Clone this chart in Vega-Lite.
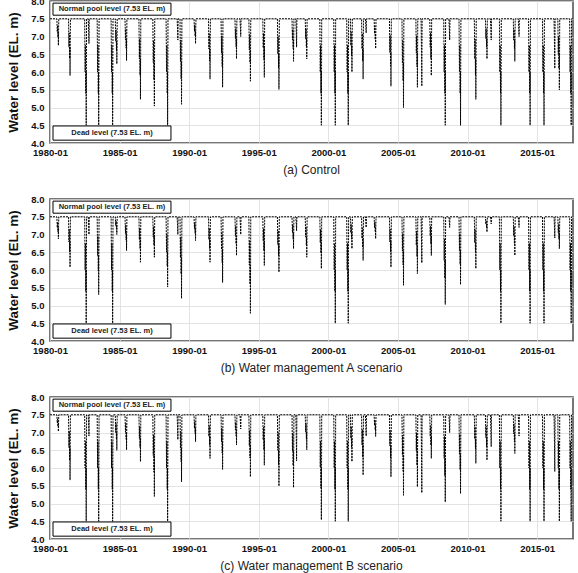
{
"$schema": "https://vega.github.io/schema/vega-lite/v6.json",
"padding": {"left": 6, "top": -5, "right": 2, "bottom": 0},
"background": "white",
"spacing": 16,
"datasets": {"wl": [
{"t":"1980-01-01","a":7.5,"b":7.5,"c":7.5},
{"t":"1980-06-29","a":7.5,"b":7.5,"c":7.5},
{"t":"1980-07-11","a":7.13,"b":7.19,"c":7.27},
{"t":"1980-07-19","a":7.31,"b":7.35,"c":7.38},
{"t":"1980-07-29","a":6.98,"b":7.07,"c":7.17},
{"t":"1980-08-04","a":7.13,"b":7.19,"c":7.27},
{"t":"1980-08-08","a":6.75,"b":6.88,"c":7.03},
{"t":"1980-08-18","a":7.5,"b":7.5,"c":7.5},
{"t":"1981-05-01","a":7.5,"b":7.5,"c":7.5},
{"t":"1981-05-13","a":6.7,"b":6.79,"c":6.58},
{"t":"1981-05-21","a":7.1,"b":7.15,"c":7.04},
{"t":"1981-05-31","a":6.38,"b":6.51,"c":6.21},
{"t":"1981-06-06","a":6.7,"b":6.79,"c":6.58},
{"t":"1981-06-10","a":5.9,"b":6.08,"c":5.66},
{"t":"1981-06-20","a":7.5,"b":7.5,"c":7.5},
{"t":"1982-06-29","a":7.5,"b":7.5,"c":7.5},
{"t":"1982-07-11","a":6.0,"b":6.0,"c":6.0},
{"t":"1982-07-19","a":6.75,"b":6.75,"c":6.75},
{"t":"1982-07-29","a":5.4,"b":5.4,"c":5.4},
{"t":"1982-08-04","a":6.0,"b":6.0,"c":6.0},
{"t":"1982-08-08","a":4.5,"b":4.5,"c":4.5},
{"t":"1982-08-18","a":7.5,"b":7.5,"c":7.5},
{"t":"1982-10-01","a":7.5,"b":7.5,"c":7.5},
{"t":"1982-10-12","a":7.15,"b":7.25,"c":7.2},
{"t":"1982-10-20","a":6.8,"b":7.0,"c":6.9},
{"t":"1982-10-28","a":7.5,"b":7.5,"c":7.5},
{"t":"1983-05-23","a":7.5,"b":7.5,"c":7.5},
{"t":"1983-06-04","a":6.0,"b":6.41,"c":6.0},
{"t":"1983-06-12","a":6.75,"b":6.95,"c":6.75},
{"t":"1983-06-22","a":5.4,"b":5.97,"c":5.4},
{"t":"1983-06-28","a":6.0,"b":6.41,"c":6.0},
{"t":"1983-07-02","a":4.5,"b":5.31,"c":4.5},
{"t":"1983-07-12","a":7.5,"b":7.5,"c":7.5},
{"t":"1984-05-23","a":7.5,"b":7.5,"c":7.5},
{"t":"1984-06-04","a":6.0,"b":6.0,"c":6.0},
{"t":"1984-06-12","a":6.75,"b":6.75,"c":6.75},
{"t":"1984-06-22","a":5.4,"b":5.4,"c":5.4},
{"t":"1984-06-28","a":6.0,"b":6.0,"c":6.0},
{"t":"1984-07-02","a":4.5,"b":4.5,"c":4.5},
{"t":"1984-07-12","a":7.5,"b":7.5,"c":7.5},
{"t":"1984-09-10","a":7.5,"b":7.5,"c":7.5},
{"t":"1984-09-22","a":6.87,"b":7.25,"c":7.0},
{"t":"1984-09-30","a":7.18,"b":7.38,"c":7.25},
{"t":"1984-10-10","a":6.61,"b":7.15,"c":6.8},
{"t":"1984-10-16","a":6.87,"b":7.25,"c":7.0},
{"t":"1984-10-20","a":6.23,"b":7.0,"c":6.5},
{"t":"1984-10-30","a":7.5,"b":7.5,"c":7.5},
{"t":"1985-05-23","a":7.5,"b":7.5,"c":7.5},
{"t":"1985-06-04","a":6.91,"b":7.03,"c":7.01},
{"t":"1985-06-12","a":7.21,"b":7.26,"c":7.25},
{"t":"1985-06-22","a":6.67,"b":6.84,"c":6.81},
{"t":"1985-06-28","a":6.91,"b":7.03,"c":7.01},
{"t":"1985-07-02","a":6.32,"b":6.55,"c":6.51},
{"t":"1985-07-12","a":7.5,"b":7.5,"c":7.5},
{"t":"1986-05-23","a":7.5,"b":7.5,"c":7.5},
{"t":"1986-06-04","a":6.37,"b":6.86,"c":6.84},
{"t":"1986-06-12","a":6.93,"b":7.18,"c":7.17},
{"t":"1986-06-22","a":5.91,"b":6.6,"c":6.58},
{"t":"1986-06-28","a":6.37,"b":6.86,"c":6.84},
{"t":"1986-07-02","a":5.23,"b":6.22,"c":6.18},
{"t":"1986-07-12","a":7.5,"b":7.5,"c":7.5},
{"t":"1987-05-23","a":7.5,"b":7.5,"c":7.5},
{"t":"1987-06-04","a":6.27,"b":6.93,"c":6.35},
{"t":"1987-06-12","a":6.89,"b":7.22,"c":6.93},
{"t":"1987-06-22","a":5.78,"b":6.7,"c":5.89},
{"t":"1987-06-28","a":6.27,"b":6.93,"c":6.35},
{"t":"1987-07-02","a":5.04,"b":6.36,"c":5.2},
{"t":"1987-07-12","a":7.5,"b":7.5,"c":7.5},
{"t":"1988-05-05","a":7.5,"b":7.5,"c":7.5},
{"t":"1988-05-17","a":6.0,"b":6.51,"c":6.0},
{"t":"1988-05-25","a":6.75,"b":7.01,"c":6.75},
{"t":"1988-06-04","a":5.4,"b":6.11,"c":5.4},
{"t":"1988-06-10","a":6.0,"b":6.51,"c":6.0},
{"t":"1988-06-14","a":4.5,"b":5.52,"c":4.5},
{"t":"1988-06-24","a":7.5,"b":7.5,"c":7.5},
{"t":"1989-02-18","a":7.5,"b":7.5,"c":7.5},
{"t":"1989-03-02","a":7.2,"b":7.25,"c":7.15},
{"t":"1989-03-10","a":6.9,"b":7.0,"c":6.8},
{"t":"1989-03-18","a":7.5,"b":7.5,"c":7.5},
{"t":"1989-05-05","a":7.5,"b":7.5,"c":7.5},
{"t":"1989-05-17","a":6.3,"b":6.35,"c":6.56},
{"t":"1989-05-25","a":6.9,"b":6.93,"c":7.03},
{"t":"1989-06-04","a":5.81,"b":5.89,"c":6.18},
{"t":"1989-06-10","a":6.3,"b":6.35,"c":6.56},
{"t":"1989-06-14","a":5.09,"b":5.2,"c":5.61},
{"t":"1989-06-24","a":7.5,"b":7.5,"c":7.5},
{"t":"1990-05-08","a":7.5,"b":7.5,"c":7.5},
{"t":"1990-05-20","a":7.15,"b":7.17,"c":7.12},
{"t":"1990-05-28","a":7.33,"b":7.33,"c":7.31},
{"t":"1990-06-07","a":7.01,"b":7.03,"c":6.97},
{"t":"1990-06-13","a":7.15,"b":7.17,"c":7.12},
{"t":"1990-06-17","a":6.8,"b":6.83,"c":6.74},
{"t":"1990-06-27","a":7.5,"b":7.5,"c":7.5},
{"t":"1991-05-23","a":7.5,"b":7.5,"c":7.5},
{"t":"1991-06-04","a":6.65,"b":6.86,"c":6.89},
{"t":"1991-06-12","a":7.08,"b":7.18,"c":7.19},
{"t":"1991-06-22","a":6.31,"b":6.6,"c":6.64},
{"t":"1991-06-28","a":6.65,"b":6.86,"c":6.89},
{"t":"1991-07-02","a":5.8,"b":6.22,"c":6.27},
{"t":"1991-07-12","a":7.5,"b":7.5,"c":7.5},
{"t":"1992-04-17","a":7.5,"b":7.5,"c":7.5},
{"t":"1992-04-29","a":6.54,"b":6.58,"c":6.73},
{"t":"1992-05-07","a":7.02,"b":7.04,"c":7.12},
{"t":"1992-05-17","a":6.15,"b":6.21,"c":6.42},
{"t":"1992-05-23","a":6.54,"b":6.58,"c":6.73},
{"t":"1992-05-27","a":5.57,"b":5.65,"c":5.96},
{"t":"1992-06-06","a":7.5,"b":7.5,"c":7.5},
{"t":"1993-04-17","a":7.5,"b":7.5,"c":7.5},
{"t":"1993-04-29","a":6.94,"b":6.96,"c":7.08},
{"t":"1993-05-07","a":7.22,"b":7.23,"c":7.29},
{"t":"1993-05-17","a":6.71,"b":6.74,"c":6.91},
{"t":"1993-05-23","a":6.94,"b":6.96,"c":7.08},
{"t":"1993-05-27","a":6.37,"b":6.41,"c":6.65},
{"t":"1993-06-06","a":7.5,"b":7.5,"c":7.5},
{"t":"1993-08-26","a":7.5,"b":7.5,"c":7.5},
{"t":"1993-09-07","a":7.25,"b":7.25,"c":7.3},
{"t":"1993-09-15","a":7.0,"b":7.0,"c":7.1},
{"t":"1993-09-23","a":7.5,"b":7.5,"c":7.5},
{"t":"1994-04-17","a":7.5,"b":7.5,"c":7.5},
{"t":"1994-04-29","a":6.62,"b":6.14,"c":6.63},
{"t":"1994-05-07","a":7.06,"b":6.82,"c":7.06},
{"t":"1994-05-17","a":6.27,"b":5.6,"c":6.28},
{"t":"1994-05-23","a":6.62,"b":6.14,"c":6.63},
{"t":"1994-05-27","a":5.74,"b":4.78,"c":5.75},
{"t":"1994-06-06","a":7.5,"b":7.5,"c":7.5},
{"t":"1995-04-17","a":7.5,"b":7.5,"c":7.5},
{"t":"1995-04-29","a":6.68,"b":6.82,"c":6.79},
{"t":"1995-05-07","a":7.09,"b":7.16,"c":7.15},
{"t":"1995-05-17","a":6.35,"b":6.54,"c":6.51},
{"t":"1995-05-23","a":6.68,"b":6.82,"c":6.79},
{"t":"1995-05-27","a":5.85,"b":6.13,"c":6.08},
{"t":"1995-06-06","a":7.5,"b":7.5,"c":7.5},
{"t":"1996-05-05","a":7.5,"b":7.5,"c":7.5},
{"t":"1996-05-17","a":6.51,"b":6.72,"c":6.5},
{"t":"1996-05-25","a":7.0,"b":7.11,"c":7.0},
{"t":"1996-06-04","a":6.11,"b":6.41,"c":6.09},
{"t":"1996-06-10","a":6.51,"b":6.72,"c":6.5},
{"t":"1996-06-14","a":5.51,"b":5.94,"c":5.49},
{"t":"1996-06-24","a":7.5,"b":7.5,"c":7.5},
{"t":"1997-05-23","a":7.5,"b":7.5,"c":7.5},
{"t":"1997-06-04","a":6.9,"b":7.05,"c":6.48},
{"t":"1997-06-12","a":7.2,"b":7.28,"c":6.99},
{"t":"1997-06-22","a":6.66,"b":6.87,"c":6.07},
{"t":"1997-06-28","a":6.9,"b":7.05,"c":6.48},
{"t":"1997-07-02","a":6.3,"b":6.6,"c":5.45},
{"t":"1997-07-12","a":7.5,"b":7.5,"c":7.5},
{"t":"1997-08-31","a":7.5,"b":7.5,"c":7.5},
{"t":"1997-09-12","a":7.1,"b":7.3,"c":6.85},
{"t":"1997-09-20","a":6.7,"b":7.1,"c":6.2},
{"t":"1997-09-28","a":7.5,"b":7.5,"c":7.5},
{"t":"1998-05-05","a":7.5,"b":7.5,"c":7.5},
{"t":"1998-05-17","a":6.94,"b":6.93,"c":7.01},
{"t":"1998-05-25","a":7.22,"b":7.22,"c":7.25},
{"t":"1998-06-04","a":6.71,"b":6.7,"c":6.81},
{"t":"1998-06-10","a":6.94,"b":6.93,"c":7.01},
{"t":"1998-06-14","a":6.37,"b":6.36,"c":6.51},
{"t":"1998-06-24","a":7.5,"b":7.5,"c":7.5},
{"t":"1999-05-23","a":7.5,"b":7.5,"c":7.5},
{"t":"1999-06-04","a":6.0,"b":6.77,"c":6.02},
{"t":"1999-06-12","a":6.75,"b":7.14,"c":6.76},
{"t":"1999-06-22","a":5.4,"b":6.48,"c":5.43},
{"t":"1999-06-28","a":6.0,"b":6.77,"c":6.02},
{"t":"1999-07-02","a":4.5,"b":6.04,"c":4.54},
{"t":"1999-07-12","a":7.5,"b":7.5,"c":7.5},
{"t":"2000-05-23","a":7.5,"b":7.5,"c":7.5},
{"t":"2000-06-04","a":6.0,"b":6.0,"c":6.0},
{"t":"2000-06-12","a":6.75,"b":6.75,"c":6.75},
{"t":"2000-06-22","a":5.4,"b":5.4,"c":5.4},
{"t":"2000-06-28","a":6.0,"b":6.0,"c":6.0},
{"t":"2000-07-02","a":4.5,"b":4.5,"c":4.5},
{"t":"2000-07-12","a":7.5,"b":7.5,"c":7.5},
{"t":"2001-04-28","a":7.5,"b":7.5,"c":7.5},
{"t":"2001-05-10","a":6.0,"b":6.0,"c":6.0},
{"t":"2001-05-18","a":6.75,"b":6.75,"c":6.75},
{"t":"2001-05-28","a":5.4,"b":5.4,"c":5.4},
{"t":"2001-06-03","a":6.0,"b":6.0,"c":6.0},
{"t":"2001-06-07","a":4.5,"b":4.5,"c":4.5},
{"t":"2001-06-17","a":7.5,"b":7.5,"c":7.5},
{"t":"2001-08-03","a":7.5,"b":7.5,"c":7.5},
{"t":"2001-08-15","a":6.75,"b":7.05,"c":6.84},
{"t":"2001-08-23","a":7.13,"b":7.28,"c":7.17},
{"t":"2001-09-02","a":6.45,"b":6.87,"c":6.58},
{"t":"2001-09-08","a":6.75,"b":7.05,"c":6.84},
{"t":"2001-09-12","a":6.0,"b":6.6,"c":6.18},
{"t":"2001-09-22","a":7.5,"b":7.5,"c":7.5},
{"t":"2002-05-23","a":7.5,"b":7.5,"c":7.5},
{"t":"2002-06-04","a":6.65,"b":6.89,"c":6.65},
{"t":"2002-06-12","a":7.08,"b":7.19,"c":7.08},
{"t":"2002-06-22","a":6.31,"b":6.64,"c":6.31},
{"t":"2002-06-28","a":6.65,"b":6.89,"c":6.65},
{"t":"2002-07-02","a":5.8,"b":6.27,"c":5.8},
{"t":"2002-07-12","a":7.5,"b":7.5,"c":7.5},
{"t":"2002-08-31","a":7.5,"b":7.5,"c":7.5},
{"t":"2002-09-12","a":7.3,"b":7.35,"c":7.2},
{"t":"2002-09-20","a":7.1,"b":7.2,"c":6.9},
{"t":"2002-09-28","a":7.5,"b":7.5,"c":7.5},
{"t":"2003-04-17","a":7.5,"b":7.5,"c":7.5},
{"t":"2003-04-29","a":7.08,"b":7.19,"c":7.2},
{"t":"2003-05-07","a":7.29,"b":7.35,"c":7.35},
{"t":"2003-05-17","a":6.91,"b":7.07,"c":7.07},
{"t":"2003-05-23","a":7.08,"b":7.19,"c":7.2},
{"t":"2003-05-27","a":6.66,"b":6.88,"c":6.89},
{"t":"2003-06-06","a":7.5,"b":7.5,"c":7.5},
{"t":"2004-05-23","a":7.5,"b":7.5,"c":7.5},
{"t":"2004-06-04","a":6.55,"b":6.79,"c":6.63},
{"t":"2004-06-12","a":7.03,"b":7.15,"c":7.06},
{"t":"2004-06-22","a":6.17,"b":6.51,"c":6.28},
{"t":"2004-06-28","a":6.55,"b":6.79,"c":6.63},
{"t":"2004-07-02","a":5.6,"b":6.08,"c":5.75},
{"t":"2004-07-12","a":7.5,"b":7.5,"c":7.5},
{"t":"2005-04-17","a":7.5,"b":7.5,"c":7.5},
{"t":"2005-04-29","a":6.25,"b":6.54,"c":6.37},
{"t":"2005-05-07","a":6.88,"b":7.02,"c":6.93},
{"t":"2005-05-17","a":5.75,"b":6.15,"c":5.91},
{"t":"2005-05-23","a":6.25,"b":6.54,"c":6.37},
{"t":"2005-05-27","a":5.0,"b":5.57,"c":5.23},
{"t":"2005-06-06","a":7.5,"b":7.5,"c":7.5},
{"t":"2006-04-17","a":7.5,"b":7.5,"c":7.5},
{"t":"2006-04-29","a":6.54,"b":6.7,"c":6.49},
{"t":"2006-05-07","a":7.02,"b":7.1,"c":6.99},
{"t":"2006-05-17","a":6.15,"b":6.38,"c":6.08},
{"t":"2006-05-23","a":6.54,"b":6.7,"c":6.49},
{"t":"2006-05-27","a":5.57,"b":5.9,"c":5.47},
{"t":"2006-06-06","a":7.5,"b":7.5,"c":7.5},
{"t":"2006-08-31","a":7.5,"b":7.5,"c":7.5},
{"t":"2006-09-12","a":6.55,"b":6.85,"c":6.4},
{"t":"2006-09-20","a":5.6,"b":6.2,"c":5.3},
{"t":"2006-09-28","a":7.5,"b":7.5,"c":7.5},
{"t":"2007-04-17","a":7.5,"b":7.5,"c":7.5},
{"t":"2007-04-29","a":6.7,"b":6.96,"c":6.89},
{"t":"2007-05-07","a":7.1,"b":7.23,"c":7.19},
{"t":"2007-05-17","a":6.38,"b":6.74,"c":6.64},
{"t":"2007-05-23","a":6.7,"b":6.96,"c":6.89},
{"t":"2007-05-27","a":5.9,"b":6.41,"c":6.27},
{"t":"2007-06-06","a":7.5,"b":7.5,"c":7.5},
{"t":"2008-04-17","a":7.5,"b":7.5,"c":7.5},
{"t":"2008-04-29","a":6.0,"b":6.27,"c":6.27},
{"t":"2008-05-07","a":6.75,"b":6.88,"c":6.89},
{"t":"2008-05-17","a":5.4,"b":5.77,"c":5.78},
{"t":"2008-05-23","a":6.0,"b":6.27,"c":6.27},
{"t":"2008-05-27","a":4.5,"b":5.03,"c":5.04},
{"t":"2008-06-06","a":7.5,"b":7.5,"c":7.5},
{"t":"2008-08-31","a":7.5,"b":7.5,"c":7.5},
{"t":"2008-09-12","a":7.2,"b":7.35,"c":7.25},
{"t":"2008-09-20","a":6.9,"b":7.2,"c":7.0},
{"t":"2008-09-28","a":7.5,"b":7.5,"c":7.5},
{"t":"2009-05-23","a":7.5,"b":7.5,"c":7.5},
{"t":"2009-06-04","a":6.0,"b":6.55,"c":6.39},
{"t":"2009-06-12","a":6.75,"b":7.02,"c":6.95},
{"t":"2009-06-22","a":5.4,"b":6.16,"c":5.95},
{"t":"2009-06-28","a":6.0,"b":6.55,"c":6.39},
{"t":"2009-07-02","a":4.5,"b":5.59,"c":5.28},
{"t":"2009-07-12","a":7.5,"b":7.5,"c":7.5},
{"t":"2010-06-29","a":7.5,"b":7.5,"c":7.5},
{"t":"2010-07-11","a":6.37,"b":6.77,"c":6.82},
{"t":"2010-07-19","a":6.93,"b":7.14,"c":7.16},
{"t":"2010-07-29","a":5.91,"b":6.48,"c":6.54},
{"t":"2010-08-04","a":6.37,"b":6.77,"c":6.82},
{"t":"2010-08-08","a":5.23,"b":6.04,"c":6.13},
{"t":"2010-08-18","a":7.5,"b":7.5,"c":7.5},
{"t":"2011-04-17","a":7.5,"b":7.5,"c":7.5},
{"t":"2011-04-29","a":6.94,"b":7.29,"c":6.86},
{"t":"2011-05-07","a":7.22,"b":7.39,"c":7.18},
{"t":"2011-05-17","a":6.71,"b":7.2,"c":6.6},
{"t":"2011-05-23","a":6.94,"b":7.29,"c":6.86},
{"t":"2011-05-27","a":6.37,"b":7.07,"c":6.22},
{"t":"2011-06-06","a":7.5,"b":7.5,"c":7.5},
{"t":"2011-08-26","a":7.5,"b":7.5,"c":7.5},
{"t":"2011-09-07","a":7.2,"b":7.4,"c":7.05},
{"t":"2011-09-15","a":6.9,"b":7.3,"c":6.6},
{"t":"2011-09-23","a":7.5,"b":7.5,"c":7.5},
{"t":"2012-04-17","a":7.5,"b":7.5,"c":7.5},
{"t":"2012-04-29","a":6.0,"b":6.0,"c":6.0},
{"t":"2012-05-07","a":6.75,"b":6.75,"c":6.75},
{"t":"2012-05-17","a":5.4,"b":5.4,"c":5.4},
{"t":"2012-05-23","a":6.0,"b":6.0,"c":6.0},
{"t":"2012-05-27","a":4.5,"b":4.5,"c":4.5},
{"t":"2012-06-06","a":7.5,"b":7.5,"c":7.5},
{"t":"2013-04-17","a":7.5,"b":7.5,"c":7.5},
{"t":"2013-04-29","a":6.9,"b":6.96,"c":6.96},
{"t":"2013-05-07","a":7.2,"b":7.23,"c":7.23},
{"t":"2013-05-17","a":6.66,"b":6.74,"c":6.74},
{"t":"2013-05-23","a":6.9,"b":6.96,"c":6.96},
{"t":"2013-05-27","a":6.3,"b":6.41,"c":6.41},
{"t":"2013-06-06","a":7.5,"b":7.5,"c":7.5},
{"t":"2013-08-26","a":7.5,"b":7.5,"c":7.5},
{"t":"2013-09-07","a":7.25,"b":7.35,"c":7.2},
{"t":"2013-09-15","a":7.0,"b":7.2,"c":6.9},
{"t":"2013-09-23","a":7.5,"b":7.5,"c":7.5},
{"t":"2014-05-23","a":7.5,"b":7.5,"c":7.5},
{"t":"2014-06-04","a":6.0,"b":6.0,"c":6.0},
{"t":"2014-06-12","a":6.75,"b":6.75,"c":6.75},
{"t":"2014-06-22","a":5.4,"b":5.4,"c":5.4},
{"t":"2014-06-28","a":6.0,"b":6.0,"c":6.0},
{"t":"2014-07-02","a":4.5,"b":4.5,"c":4.5},
{"t":"2014-07-12","a":7.5,"b":7.5,"c":7.5},
{"t":"2015-05-23","a":7.5,"b":7.5,"c":7.5},
{"t":"2015-06-04","a":6.0,"b":6.0,"c":6.0},
{"t":"2015-06-12","a":6.75,"b":6.75,"c":6.75},
{"t":"2015-06-22","a":5.4,"b":5.4,"c":5.4},
{"t":"2015-06-28","a":6.0,"b":6.0,"c":6.0},
{"t":"2015-07-02","a":4.5,"b":4.5,"c":4.5},
{"t":"2015-07-12","a":7.5,"b":7.5,"c":7.5},
{"t":"2016-03-21","a":7.5,"b":7.5,"c":7.5},
{"t":"2016-04-02","a":6.8,"b":7.2,"c":6.7},
{"t":"2016-04-10","a":6.1,"b":6.9,"c":5.9},
{"t":"2016-04-18","a":7.5,"b":7.5,"c":7.5},
{"t":"2016-06-29","a":7.5,"b":7.5,"c":7.5},
{"t":"2016-07-11","a":6.5,"b":7.05,"c":6.0},
{"t":"2016-07-19","a":7.0,"b":7.28,"c":6.75},
{"t":"2016-07-29","a":6.1,"b":6.87,"c":5.4},
{"t":"2016-08-04","a":6.5,"b":7.05,"c":6.0},
{"t":"2016-08-08","a":5.5,"b":6.6,"c":4.5},
{"t":"2016-08-18","a":7.5,"b":7.5,"c":7.5},
{"t":"2017-05-05","a":7.5,"b":7.5,"c":7.5},
{"t":"2017-05-17","a":6.0,"b":6.0,"c":6.0},
{"t":"2017-05-25","a":6.75,"b":6.75,"c":6.75},
{"t":"2017-06-04","a":5.4,"b":5.4,"c":5.4},
{"t":"2017-06-10","a":6.0,"b":6.0,"c":6.0},
{"t":"2017-06-14","a":4.5,"b":4.5,"c":4.5},
{"t":"2017-06-24","a":7.5,"b":7.5,"c":7.5},
{"t":"2017-07-31","a":7.5,"b":7.5,"c":7.5}
]},
"vconcat": [
{
 "width": 523, "height": 142,
 "title": {"text": "(a) Control", "orient": "bottom"},
 "layer": [
  {"data": {"name": "wl"},
   "mark": {"type": "line", "color": "black", "strokeWidth": 1, "strokeDash": [2, 1], "clip": true},
   "encoding": {
    "x": {"field": "t", "type": "temporal", "scale": {"type": "utc", "domain": [{"year": 1980, "month": 1, "date": 1, "utc": true}, {"year": 2017, "month": 8, "date": 1, "utc": true}]},
      "axis": {"title": null, "format": "%Y-%m", "tickCount": 20, "values": [{"year": 1980, "month": 1, "date": 1, "utc": true}, {"year": 1985, "month": 1, "date": 1, "utc": true}, {"year": 1990, "month": 1, "date": 1, "utc": true}, {"year": 1995, "month": 1, "date": 1, "utc": true}, {"year": 2000, "month": 1, "date": 1, "utc": true}, {"year": 2005, "month": 1, "date": 1, "utc": true}, {"year": 2010, "month": 1, "date": 1, "utc": true}, {"year": 2015, "month": 1, "date": 1, "utc": true}]}},
    "y": {"field": "a", "type": "quantitative", "scale": {"domain": [4, 8], "nice": false},
      "axis": {"title": "Water level (EL. m)", "values": [4, 4.5, 5, 5.5, 6, 6.5, 7, 7.5, 8], "tickCount": 12, "format": ".1f", "labelOverlap": false}}
   }},
  {"data": {"values": [{}]},
   "mark": {"type": "rect", "fill": "white", "stroke": "black", "strokeWidth": 1},
   "encoding": {"x": {"datum": {"year": 1980, "month": 3, "date": 20, "utc": true}, "type": "temporal"}, "x2": {"datum": {"year": 1988, "month": 9, "date": 10, "utc": true}}, "y": {"datum": 7.94, "type": "quantitative"}, "y2": {"datum": 7.6}}},
  {"data": {"values": [{}]},
   "mark": {"type": "rect", "fill": "white", "stroke": "black", "strokeWidth": 1},
   "encoding": {"x": {"datum": {"year": 1980, "month": 3, "date": 20, "utc": true}, "type": "temporal"}, "x2": {"datum": {"year": 1988, "month": 9, "date": 10, "utc": true}}, "y": {"datum": 4.48, "type": "quantitative"}, "y2": {"datum": 4.08}}},
  {"data": {"values": [{}]},
   "mark": {"type": "text", "text": "Normal pool level (7.53 EL. m)", "fontSize": 7.5, "fontWeight": "bold", "color": "#222", "align": "center", "baseline": "middle"},
   "encoding": {"x": {"datum": {"year": 1984, "month": 6, "date": 15, "utc": true}, "type": "temporal"}, "y": {"datum": 7.77, "type": "quantitative"}}},
  {"data": {"values": [{}]},
   "mark": {"type": "text", "text": "Dead level (7.53 EL. m)", "fontSize": 7.5, "fontWeight": "bold", "color": "#222", "align": "center", "baseline": "middle"},
   "encoding": {"x": {"datum": {"year": 1984, "month": 6, "date": 15, "utc": true}, "type": "temporal"}, "y": {"datum": 4.28, "type": "quantitative"}}}
 ]
},
{
 "width": 523, "height": 142,
 "title": {"text": "(b) Water management A scenario", "orient": "bottom"},
 "layer": [
  {"data": {"name": "wl"},
   "mark": {"type": "line", "color": "black", "strokeWidth": 1, "strokeDash": [2, 1], "clip": true},
   "encoding": {
    "x": {"field": "t", "type": "temporal", "scale": {"type": "utc", "domain": [{"year": 1980, "month": 1, "date": 1, "utc": true}, {"year": 2017, "month": 8, "date": 1, "utc": true}]},
      "axis": {"title": null, "format": "%Y-%m", "tickCount": 20, "values": [{"year": 1980, "month": 1, "date": 1, "utc": true}, {"year": 1985, "month": 1, "date": 1, "utc": true}, {"year": 1990, "month": 1, "date": 1, "utc": true}, {"year": 1995, "month": 1, "date": 1, "utc": true}, {"year": 2000, "month": 1, "date": 1, "utc": true}, {"year": 2005, "month": 1, "date": 1, "utc": true}, {"year": 2010, "month": 1, "date": 1, "utc": true}, {"year": 2015, "month": 1, "date": 1, "utc": true}]}},
    "y": {"field": "b", "type": "quantitative", "scale": {"domain": [4, 8], "nice": false},
      "axis": {"title": "Water level (EL. m)", "values": [4, 4.5, 5, 5.5, 6, 6.5, 7, 7.5, 8], "tickCount": 12, "format": ".1f", "labelOverlap": false}}
   }},
  {"data": {"values": [{}]},
   "mark": {"type": "rect", "fill": "white", "stroke": "black", "strokeWidth": 1},
   "encoding": {"x": {"datum": {"year": 1980, "month": 3, "date": 20, "utc": true}, "type": "temporal"}, "x2": {"datum": {"year": 1988, "month": 9, "date": 10, "utc": true}}, "y": {"datum": 7.94, "type": "quantitative"}, "y2": {"datum": 7.6}}},
  {"data": {"values": [{}]},
   "mark": {"type": "rect", "fill": "white", "stroke": "black", "strokeWidth": 1},
   "encoding": {"x": {"datum": {"year": 1980, "month": 3, "date": 20, "utc": true}, "type": "temporal"}, "x2": {"datum": {"year": 1988, "month": 9, "date": 10, "utc": true}}, "y": {"datum": 4.48, "type": "quantitative"}, "y2": {"datum": 4.08}}},
  {"data": {"values": [{}]},
   "mark": {"type": "text", "text": "Normal pool level (7.53 EL. m)", "fontSize": 7.5, "fontWeight": "bold", "color": "#222", "align": "center", "baseline": "middle"},
   "encoding": {"x": {"datum": {"year": 1984, "month": 6, "date": 15, "utc": true}, "type": "temporal"}, "y": {"datum": 7.77, "type": "quantitative"}}},
  {"data": {"values": [{}]},
   "mark": {"type": "text", "text": "Dead level (7.53 EL. m)", "fontSize": 7.5, "fontWeight": "bold", "color": "#222", "align": "center", "baseline": "middle"},
   "encoding": {"x": {"datum": {"year": 1984, "month": 6, "date": 15, "utc": true}, "type": "temporal"}, "y": {"datum": 4.28, "type": "quantitative"}}}
 ]
},
{
 "width": 523, "height": 142,
 "title": {"text": "(c) Water management B scenario", "orient": "bottom"},
 "layer": [
  {"data": {"name": "wl"},
   "mark": {"type": "line", "color": "black", "strokeWidth": 1, "strokeDash": [2, 1], "clip": true},
   "encoding": {
    "x": {"field": "t", "type": "temporal", "scale": {"type": "utc", "domain": [{"year": 1980, "month": 1, "date": 1, "utc": true}, {"year": 2017, "month": 8, "date": 1, "utc": true}]},
      "axis": {"title": null, "format": "%Y-%m", "tickCount": 20, "values": [{"year": 1980, "month": 1, "date": 1, "utc": true}, {"year": 1985, "month": 1, "date": 1, "utc": true}, {"year": 1990, "month": 1, "date": 1, "utc": true}, {"year": 1995, "month": 1, "date": 1, "utc": true}, {"year": 2000, "month": 1, "date": 1, "utc": true}, {"year": 2005, "month": 1, "date": 1, "utc": true}, {"year": 2010, "month": 1, "date": 1, "utc": true}, {"year": 2015, "month": 1, "date": 1, "utc": true}]}},
    "y": {"field": "c", "type": "quantitative", "scale": {"domain": [4, 8], "nice": false},
      "axis": {"title": "Water level (EL. m)", "values": [4, 4.5, 5, 5.5, 6, 6.5, 7, 7.5, 8], "tickCount": 12, "format": ".1f", "labelOverlap": false}}
   }},
  {"data": {"values": [{}]},
   "mark": {"type": "rect", "fill": "white", "stroke": "black", "strokeWidth": 1},
   "encoding": {"x": {"datum": {"year": 1980, "month": 3, "date": 20, "utc": true}, "type": "temporal"}, "x2": {"datum": {"year": 1988, "month": 9, "date": 10, "utc": true}}, "y": {"datum": 7.94, "type": "quantitative"}, "y2": {"datum": 7.6}}},
  {"data": {"values": [{}]},
   "mark": {"type": "rect", "fill": "white", "stroke": "black", "strokeWidth": 1},
   "encoding": {"x": {"datum": {"year": 1980, "month": 3, "date": 20, "utc": true}, "type": "temporal"}, "x2": {"datum": {"year": 1988, "month": 9, "date": 10, "utc": true}}, "y": {"datum": 4.48, "type": "quantitative"}, "y2": {"datum": 4.08}}},
  {"data": {"values": [{}]},
   "mark": {"type": "text", "text": "Normal pool level (7.53 EL. m)", "fontSize": 7.5, "fontWeight": "bold", "color": "#222", "align": "center", "baseline": "middle"},
   "encoding": {"x": {"datum": {"year": 1984, "month": 6, "date": 15, "utc": true}, "type": "temporal"}, "y": {"datum": 7.77, "type": "quantitative"}}},
  {"data": {"values": [{}]},
   "mark": {"type": "text", "text": "Dead level (7.53 EL. m)", "fontSize": 7.5, "fontWeight": "bold", "color": "#222", "align": "center", "baseline": "middle"},
   "encoding": {"x": {"datum": {"year": 1984, "month": 6, "date": 15, "utc": true}, "type": "temporal"}, "y": {"datum": 4.28, "type": "quantitative"}}}
 ]
}
],
"config": {
 "font": "Liberation Sans",
 "view": {"stroke": "#4a4a4a", "strokeWidth": 1.5},
 "axis": {"labelFont": "Liberation Sans", "labelFontWeight": "bold", "labelFontSize": 9.5, "labelColor": "#111", "gridColor": "#dcdcdc", "gridWidth": 0.8, "ticks": false, "domain": false, "titleFont": "Liberation Sans", "titleFontWeight": "bold", "titleFontSize": 13.5, "titleColor": "#111"},
 "axisY": {"labelPadding": 6, "titlePadding": 10, "labelOverlap": false, "tickCount": 12},
 "axisX": {"labelPadding": 4, "labelFlush": false},
 "title": {"font": "Liberation Sans", "fontSize": 12, "fontWeight": "normal", "color": "#222", "offset": 8}
}
}
